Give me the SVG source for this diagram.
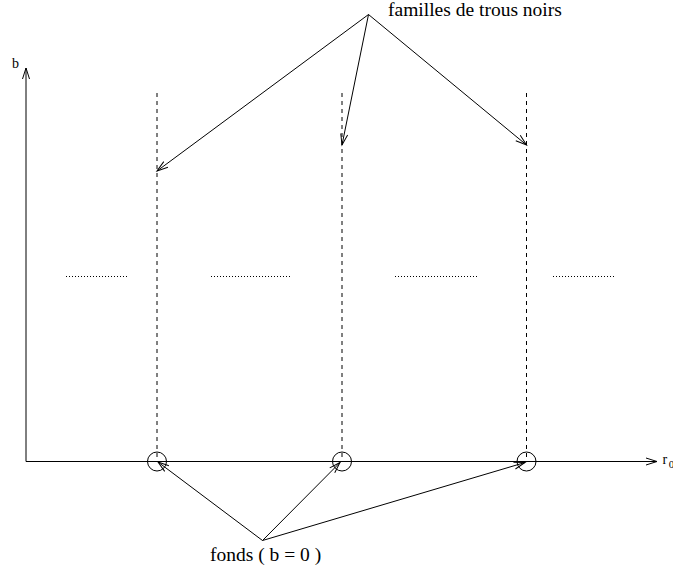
<svg xmlns="http://www.w3.org/2000/svg" width="673" height="572" viewBox="0 0 673 572">
<style>
.ln{stroke:#000;stroke-width:1;fill:none}
.dash{stroke:#000;stroke-width:1;stroke-dasharray:4 4;fill:none}
.dot{stroke:#000;stroke-width:1;stroke-dasharray:1 2;fill:none}
.t{font-family:"Liberation Serif","Times New Roman",serif;fill:#000}
</style>
<defs>
<marker id="ah" markerUnits="userSpaceOnUse" markerWidth="14" markerHeight="10" viewBox="-12 -5 14 10" refX="0" refY="0" orient="auto">
<path d="M-11,-3.5 L0,0 L-11,3.5" fill="none" stroke="#000" stroke-width="1"/>
</marker>
</defs>
<g id="axes">
<line class="ln" x1="26" y1="461.5" x2="26" y2="68" marker-end="url(#ah)"/>
<line class="ln" x1="26" y1="461.5" x2="657" y2="461.5" marker-end="url(#ah)"/>
<text class="t" x="12" y="68" font-size="14">b</text>
<text class="t" x="662.5" y="464" font-size="14">r<tspan font-size="11" dx="1.5" dy="3.5">0</tspan></text>
</g>
<g id="families">
<line class="dash" x1="157" y1="93" x2="157" y2="461"/>
<line class="dash" x1="342" y1="93" x2="342" y2="461"/>
<line class="dash" x1="526.5" y1="93" x2="526.5" y2="461"/>
</g>
<g id="dots">
<line class="dot" x1="66" y1="276.5" x2="128" y2="276.5"/>
<line class="dot" x1="211" y1="276.5" x2="292" y2="276.5"/>
<line class="dot" x1="395" y1="276.5" x2="477" y2="276.5"/>
<line class="dot" x1="553" y1="276.5" x2="615" y2="276.5"/>
</g>
<g id="backgrounds">
<circle class="ln" cx="157" cy="461.5" r="9.5"/>
<circle class="ln" cx="342" cy="461.5" r="9.5"/>
<circle class="ln" cx="526.5" cy="461.5" r="9.5"/>
</g>
<g id="label-familles">
<text class="t" x="388" y="15.5" font-size="19.5">familles de trous noirs</text>
</g>
<g id="label-fonds">
<text class="t" x="210" y="560.5" font-size="19.5">fonds ( b = 0 )</text>
</g>
<g id="connectors">
<line class="ln" x1="368.5" y1="14.5" x2="157" y2="171" marker-end="url(#ah)"/>
<line class="ln" x1="368.5" y1="14.5" x2="342" y2="145" marker-end="url(#ah)"/>
<line class="ln" x1="368.5" y1="14.5" x2="526.5" y2="145" marker-end="url(#ah)"/>
<line class="ln" x1="262.5" y1="540.5" x2="158" y2="462" marker-end="url(#ah)"/>
<line class="ln" x1="262.5" y1="540.5" x2="340" y2="462.5" marker-end="url(#ah)"/>
<line class="ln" x1="262.5" y1="540.5" x2="525" y2="462.5" marker-end="url(#ah)"/>
</g>
</svg>
